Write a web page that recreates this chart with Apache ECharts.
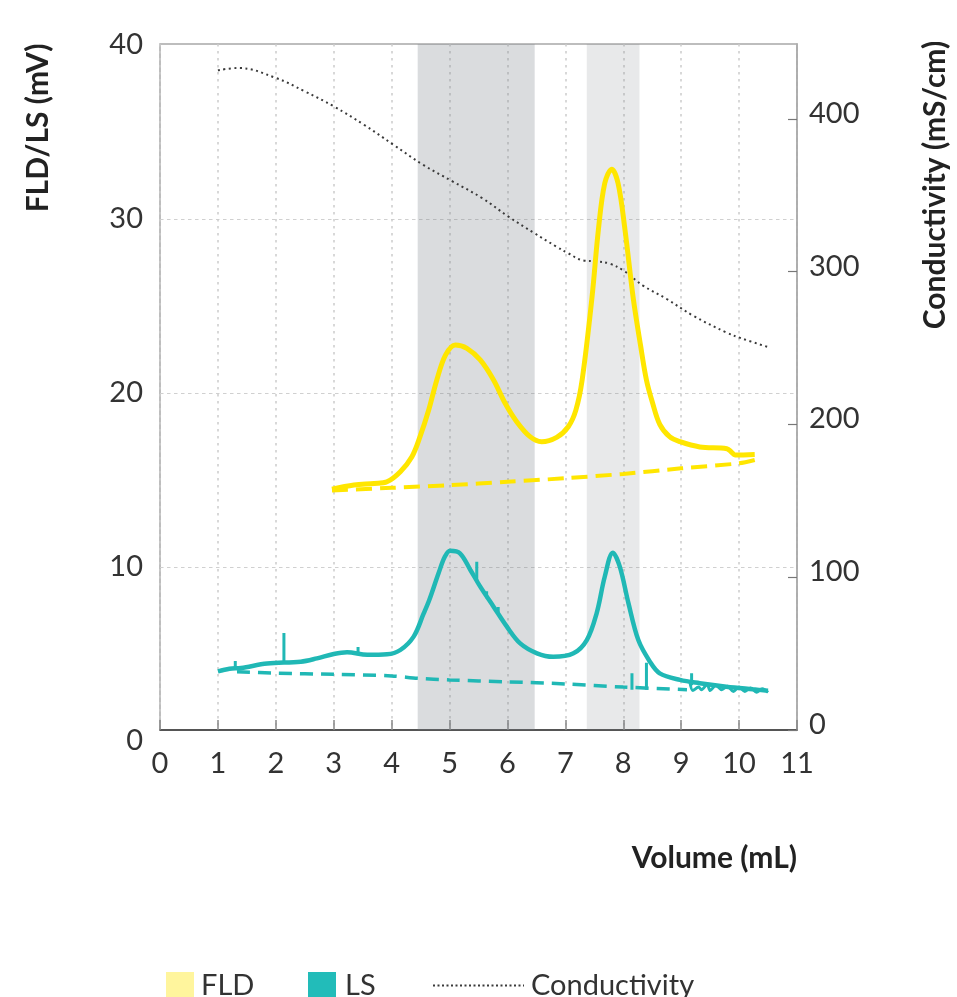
<!DOCTYPE html>
<html><head><meta charset="utf-8">
<script src="https://cdn.jsdelivr.net/npm/echarts@6/dist/echarts.min.js"></script>
<style>html,body{margin:0;padding:0;background:#fff;}#c{width:957px;height:997px;}</style>
</head><body><div id="c"></div>
<script>
// ---- tick labels ----
const leftTicks = [0, 10, 20, 30, 40];
const rightTicks = [0, 100, 200, 300, 400];
const volumeTicks = [0, 1, 2, 3, 4, 5, 6, 7, 8, 9, 10, 11];

// ---- shaded fractions (mL) ----
const bandStart = [4.45, 7.37];
const bandEnd = [6.47, 8.28];

// ---- FLD (mV) ----
const fldX = [2.97,3.35,3.7,3.92,4.15,4.35,4.49,4.64,4.78,4.93,5.1,5.3,5.53,5.76,5.96,6.16,6.39,6.59,6.85,7.05,7.18,7.29,7.46,7.57,7.68,7.8,7.91,8.03,8.17,8.3,8.4,8.5,8.63,8.8,8.98,9.32,9.79,9.87,9.93,10.27];
const fldY = [14.47,14.71,14.8,14.9,15.48,16.34,17.49,19.02,20.75,22.18,22.76,22.57,21.9,20.75,19.41,18.35,17.49,17.2,17.45,18.06,19.0,20.75,25.5,29.37,32.05,32.86,32.05,29.37,25.5,22.7,20.75,19.5,18.2,17.49,17.2,16.9,16.8,16.6,16.44,16.47];
const fldBaseX = [2.97,4,5,6,7,8,9,10,10.27];
const fldBaseY = [14.4,14.55,14.7,14.9,15.1,15.35,15.67,15.96,16.15];

// ---- LS (mV) ----
const lsX = [1.0,1.2,1.4,1.85,2.43,2.71,3.0,3.23,3.58,3.92,4.15,4.38,4.55,4.65,4.81,4.92,5.01,5.18,5.36,5.53,5.76,5.99,6.22,6.51,6.79,7.14,7.37,7.54,7.68,7.82,7.94,8.09,8.26,8.46,8.63,8.98,9.32,9.78,10.24,10.5];
const lsY = [4.0,4.15,4.2,4.45,4.56,4.75,5.0,5.1,4.95,4.98,5.23,6.0,7.3,8.1,9.64,10.6,10.94,10.79,9.83,8.87,7.72,6.57,5.61,5.04,4.84,5.04,5.8,7.34,9.44,10.82,10.02,7.91,5.8,4.56,3.89,3.51,3.32,3.12,2.97,2.89];
const lsSpikeX = [1.3, 2.14, 3.42, 5.47, 5.64, 5.84, 8.15, 8.4, 9.18];
const lsSpikeBase = [4.2, 4.5, 5.05, 9.2, 8.2, 7.4, 2.95, 2.95, 3.2];
const lsSpikeTop = [4.6, 6.2, 5.4, 10.3, 8.6, 7.7, 3.9, 4.5, 3.9];
const lsBaseX = [1.33,2,3,4,4.45,5,6,7,8,9.1];
const lsBaseY = [3.98,3.9,3.83,3.74,3.6,3.51,3.4,3.28,3.1,2.95];
const lsNoiseX = [9.15,9.2,9.3,9.35,9.45,9.5,9.6,9.7,9.8,9.9,10.0,10.1,10.2,10.3,10.4,10.5];
const lsNoiseY = [3.4,2.9,3.1,2.95,3.25,2.9,3.2,2.95,3.15,2.85,3.1,2.85,3.05,2.8,3.0,2.8];

// ---- Conductivity (mS/cm) ----
const condX = [1.0,1.35,2.0,2.5,3.0,3.52,4.03,4.54,5.05,5.56,6.01,6.46,6.84,7.05,7.31,7.54,7.77,8.0,8.34,8.75,9.21,9.78,10.03,10.52];
const condY = [431.8,433.3,426.8,418.0,408.2,396.2,383.1,370.0,359.1,348.2,336.2,325.3,316.5,312,307.3,306.7,305.2,300.8,290.9,282.1,271.1,260.2,256.5,250.4];

const zip = (xs, ys) => xs.map((x, i) => [x, ys[i]]);
const spikes = [];
lsSpikeX.forEach((x, i) => { spikes.push([x, lsSpikeBase[i]], [x, lsSpikeTop[i]], [x, null]); });

const YEL = '#FFE600', TEAL = '#20B8B5', FONT = 'Lato';

const chart = echarts.init(document.getElementById('c'), null, {renderer: 'canvas'});
chart.setOption({
  animation: false,
  backgroundColor: '#fff',
  textStyle: {fontFamily: FONT},
  grid: [
    {left: 160, right: 160, top: 45, bottom: 256, show: false},
    {left: 160, right: 160, top: 44, bottom: 267, show: true, borderColor: '#a8a8a8', borderWidth: 1.5, backgroundColor: 'rgba(0,0,0,0)'}
  ],
  xAxis: [
    {gridIndex: 0, type: 'value', min: 0, max: 11, show: false},
    {gridIndex: 1, type: 'value', min: volumeTicks[0], max: volumeTicks[volumeTicks.length - 1], interval: 1, position: 'bottom',
      axisLine: {onZero: false, lineStyle: {color: '#333', width: 1.5}},
      axisTick: {inside: true, length: 10, lineStyle: {color: '#888', width: 1.5}},
      axisLabel: {margin: 19, fontSize: 29, color: '#333', fontFamily: FONT},
      splitLine: {show: true, lineStyle: {color: '#cccccc', type: [2.5, 4.5], width: 1.5}}}
  ],
  yAxis: [
    {gridIndex: 0, type: 'value', min: leftTicks[0], max: leftTicks[leftTicks.length - 1], interval: 10, position: 'left',
      axisLine: {show: false}, axisTick: {show: false},
      axisLabel: {margin: 17, fontSize: 29, color: '#333', fontFamily: FONT},
      splitLine: {show: true, showMinLine: false, showMaxLine: false, lineStyle: {color: '#d0d0d0', type: [3.5, 3.5], width: 1.2}}},
    {gridIndex: 1, type: 'value', min: 0, max: 449, position: 'right',
      axisLine: {show: true, onZero: false, lineStyle: {color: '#a8a8a8', width: 1.5}},
      axisTick: {show: true, inside: true, length: 9, customValues: rightTicks, lineStyle: {color: '#777', width: 1.2}},
      axisLabel: {customValues: rightTicks, margin: 12, color: '#333', fontFamily: FONT,
        formatter: '{a|{value}}',
        rich: {a: {fontSize: 29, color: '#333', fontFamily: FONT, padding: [0, 0, 11, 0]}}},
      splitLine: {show: false}}
  ],
  legend: [
    {left: 161, top: 966, itemWidth: 28, itemHeight: 27, selectedMode: false,
      data: [{name: 'FLD', icon: 'rect', itemStyle: {color: '#FFF59D'}}],
      textStyle: {fontSize: 29, color: '#333', fontFamily: FONT, padding: [0, 0, 0, 2]}},
    {left: 303, top: 966, itemWidth: 28, itemHeight: 27, selectedMode: false,
      data: [{name: 'LS', icon: 'rect', itemStyle: {color: '#22BCB9'}}],
      textStyle: {fontSize: 29, color: '#333', fontFamily: FONT, padding: [0, 0, 0, 4]}},
    {left: 427, top: 966, itemWidth: 91, itemHeight: 27, selectedMode: false,
      data: [{name: 'Conductivity', itemStyle: {opacity: 0}, lineStyle: {color: '#3a3a3a', width: 2, type: [2, 2.5]}}],
      textStyle: {fontSize: 29, color: '#333', fontFamily: FONT, padding: [0, 0, 0, 2]}}
  ],
  graphic: [
    {type: 'text', x: 38, y: 128, rotation: Math.PI / 2,
      style: {text: 'FLD/LS (mV)', fontSize: 30, fontWeight: 'bold', fontFamily: FONT, fill: '#222', align: 'center', verticalAlign: 'middle', textAlign: 'center', textVerticalAlign: 'middle'}},
    {type: 'text', x: 935, y: 185, rotation: Math.PI / 2,
      style: {text: 'Conductivity (mS/cm)', fontSize: 30, fontWeight: 'bold', fontFamily: FONT, fill: '#222', align: 'center', verticalAlign: 'middle', textAlign: 'center', textVerticalAlign: 'middle'}},
    {type: 'text', x: 797, y: 858,
      style: {text: 'Volume (mL)', fontSize: 30, fontWeight: 'bold', fontFamily: FONT, fill: '#222', align: 'right', verticalAlign: 'middle', textAlign: 'right', textVerticalAlign: 'middle'}}
  ],
  series: [
    {name: 'Conductivity', type: 'line', xAxisIndex: 1, yAxisIndex: 1, data: zip(condX, condY), smooth: 0.4, symbol: 'none',
      lineStyle: {color: '#3a3a3a', width: 2, type: [2, 3.5]}, itemStyle: {color: '#3a3a3a'}, z: 3,
      markArea: {silent: true, data: [
        [{xAxis: bandStart[0], itemStyle: {color: 'rgba(120,126,132,0.27)'}}, {xAxis: bandEnd[0]}],
        [{xAxis: bandStart[1], itemStyle: {color: 'rgba(120,126,132,0.17)'}}, {xAxis: bandEnd[1]}]
      ]}},
    {name: 'FLD baseline', type: 'line', xAxisIndex: 0, yAxisIndex: 0, data: zip(fldBaseX, fldBaseY), smooth: 0.3, symbol: 'none',
      lineStyle: {color: YEL, width: 4, type: [16, 8]}, z: 4},
    {name: 'FLD', type: 'line', xAxisIndex: 0, yAxisIndex: 0, data: zip(fldX, fldY), smooth: 0.35, symbol: 'none',
      lineStyle: {color: YEL, width: 5}, itemStyle: {color: YEL}, z: 5},
    {name: 'LS baseline', type: 'line', xAxisIndex: 0, yAxisIndex: 0, data: zip(lsBaseX, lsBaseY), smooth: 0.3, symbol: 'none',
      lineStyle: {color: TEAL, width: 3.5, type: [13, 8]}, z: 4},
    {name: 'LS noise', type: 'line', xAxisIndex: 0, yAxisIndex: 0, data: zip(lsNoiseX, lsNoiseY), smooth: 0.3, symbol: 'none',
      lineStyle: {color: TEAL, width: 3}, z: 4},
    {name: 'LS spikes', type: 'line', xAxisIndex: 0, yAxisIndex: 0, data: spikes, symbol: 'none', connectNulls: false,
      lineStyle: {color: TEAL, width: 3}, z: 5},
    {name: 'LS', type: 'line', xAxisIndex: 0, yAxisIndex: 0, data: zip(lsX, lsY), smooth: 0.35, symbol: 'none',
      lineStyle: {color: TEAL, width: 4.5}, itemStyle: {color: TEAL}, z: 5}
  ]
});
</script></body></html>
